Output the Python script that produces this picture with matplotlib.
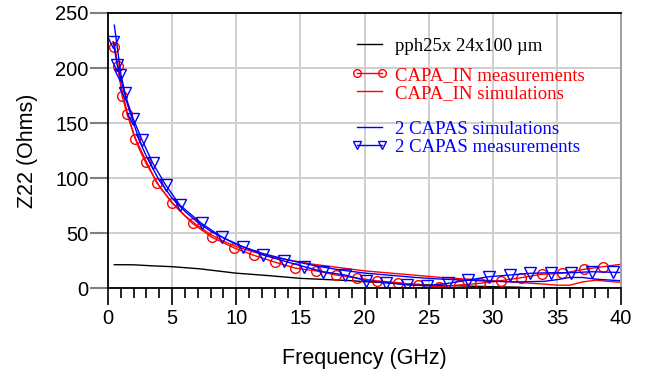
import matplotlib
matplotlib.use("Agg")
import matplotlib.pyplot as plt
from matplotlib.ticker import MultipleLocator

# ---- data ----
freq_ref = [0.5, 2, 3.4, 5, 7.2, 10, 12.4, 15, 18.8, 20, 22, 25, 28, 30, 32, 33, 35, 40]
z_ref = [21.6, 21.5, 20.6, 19.8, 17.8, 13.9, 11.8, 9.2, 7.2, 6.2, 5.0, 3.2, 2.2, 1.6, 1.2, 0.5, 0.3, 0.2]

freq_capa_meas = [0.5, 0.8, 1.1, 1.5, 2.15, 3.0, 3.8, 4.97, 6.6, 8.1, 9.8, 11.4, 13.0, 14.6,
                  16.2, 17.8, 19.4, 20.95, 22.6, 24.2, 25.8, 27.4, 29.0, 30.6, 32.2, 33.8,
                  35.4, 37.1, 38.6, 40.0]
z_capa_meas = [219, 202, 175, 158, 136, 115, 96, 78, 59, 46.5, 37, 30, 24, 18.5,
               16, 12.2, 9.5, 7.0, 5.3, 3.2, 1.6, 3.2, 4.7, 7.1, 9.8, 12.9,
               13.8, 17.4, 19.8, 22.0]

freq_capa_sim = [0.5, 1, 1.5, 2, 2.5, 3, 4, 5, 6, 7, 8, 9, 10, 12, 14, 16, 18, 20, 22, 24,
                 26, 28, 30, 32, 34, 35, 36, 37, 38, 40]
z_capa_sim = [222, 185, 160, 140, 125, 113, 93, 78, 66, 57, 49, 43, 38, 31, 26, 22, 19, 16,
              14, 12, 10, 8.5, 7, 5.5, 4, 3, 3, 6, 7.5, 5.5]

freq_2capas_sim = [0.5, 1, 1.5, 2, 2.5, 3, 4, 5, 6, 7, 8, 9, 10, 12, 14, 16, 18, 20, 22, 24,
                   26, 28, 30, 32, 34, 35, 36, 37, 38, 40]
z_2capas_sim = [239, 195, 168, 150, 133, 120, 98, 82, 70, 60, 52, 46, 40, 32, 26, 21, 17, 14,
                12, 10, 8.5, 7.5, 6.5, 6, 6.5, 8, 10, 10, 8.5, 7]

freq_2capas_meas = [0.41, 0.73, 0.94, 1.3, 1.97, 2.67, 3.5, 4.5, 5.6, 7.3, 8.9, 10.5, 12.1,
                    13.7, 15.3, 16.8, 18.5, 20.1, 21.7, 23.3, 24.9, 26.5, 28.1, 29.7, 31.3,
                    32.9, 34.5, 36.1, 37.7, 39.4, 40.0]
z_2capas_meas = [224, 202.5, 193.5, 177, 154, 134.5, 113.6, 94, 75.8, 59, 46.5, 38, 30.4,
                 25, 19.8, 15.2, 12.2, 7.1, 5.3, 3.2, 2.5, 4.7, 7.7, 10.7, 12.2,
                 13.8, 14.3, 14.3, 15.2, 14.7, 14.5]

labels = ["pph25x 24x100 \u00b5m", "CAPA_IN measurements", "CAPA_IN simulations",
          "2 CAPAS simulations", "2 CAPAS measurements"]
xticks = [0, 5, 10, 15, 20, 25, 30, 35, 40]
yticks = [0, 50, 100, 150, 200, 250]

RED = "#ff0000"
BLUE = "#0000ff"

fig = plt.figure(figsize=(6.58, 3.80), dpi=100)
ax = fig.add_axes([0.164, 0.2408, 0.780, 0.725])

ax.set_xlim(0, 40)
ax.set_ylim(0, 250)

ax.grid(True, color="#cfcfcf", lw=1.4)
ax.set_axisbelow(True)

l_ref, = ax.plot(freq_ref, z_ref, color="black", lw=1.0)
l_cm, = ax.plot(freq_capa_meas, z_capa_meas, color=RED, lw=1.0, marker="o", ms=7,
                mfc="none", mec=RED, mew=1.0, markevery=list(range(len(freq_capa_meas) - 1)))
l_cs, = ax.plot(freq_capa_sim, z_capa_sim, color=RED, lw=1.0)
l_bs, = ax.plot(freq_2capas_sim, z_2capas_sim, color=BLUE, lw=1.0)
l_bm, = ax.plot(freq_2capas_meas, z_2capas_meas, color=BLUE, lw=1.0, marker="v", ms=8.5,
                mfc="none", mec=BLUE, mew=1.0, markevery=list(range(len(freq_2capas_meas) - 1)))

ax.set_xticks(xticks)
ax.set_yticks(yticks)
ax.xaxis.set_minor_locator(MultipleLocator(1))
ax.tick_params(axis="x", which="major", direction="out", length=12, width=1.2, color="black",
               labelsize=14.5, pad=3)
ax.tick_params(axis="x", which="minor", direction="out", length=7, width=1.2, color="black")
ax.tick_params(axis="y", which="major", direction="out", length=13, width=1.5, color="#808080",
               labelsize=14.5, pad=1)
for lab in ax.get_xticklabels() + ax.get_yticklabels():
    lab.set_family("Liberation Sans")

for s in ["left", "bottom", "top"]:
    ax.spines[s].set_color("black")
    ax.spines[s].set_linewidth(1.3)
ax.spines["right"].set_color("#a0a0a0")
ax.spines["right"].set_linewidth(1.4)

ax.set_xlabel("Frequency (GHz)", fontsize=15.5, family="Liberation Sans", labelpad=14)
ax.set_ylabel("Z22 (Ohms)", fontsize=15.5, family="Liberation Sans", labelpad=12)

leg_kw = dict(frameon=False, prop={"family": "Liberation Serif", "size": 13.5},
              handlelength=1.92, handletextpad=0.43, numpoints=2, labelspacing=0.05,
              borderaxespad=0, borderpad=0)
leg1 = ax.legend([l_ref], [labels[0]], loc="upper left", bbox_to_anchor=(0.474, 0.911), **leg_kw)
leg1.get_texts()[0].set_color("black")
ax.add_artist(leg1)
leg2 = ax.legend([l_cm, l_cs], labels[1:3], loc="upper left", bbox_to_anchor=(0.474, 0.805), **leg_kw)
for t in leg2.get_texts():
    t.set_color(RED)
ax.add_artist(leg2)
leg3 = ax.legend([l_bs, l_bm], labels[3:5], loc="upper left", bbox_to_anchor=(0.474, 0.609), **leg_kw)
for t in leg3.get_texts():
    t.set_color(BLUE)
for lg in (leg2, leg3):
    for h in lg.legend_handles:
        h.set_markersize(5.5)

fig.savefig("out.png", dpi=100)
